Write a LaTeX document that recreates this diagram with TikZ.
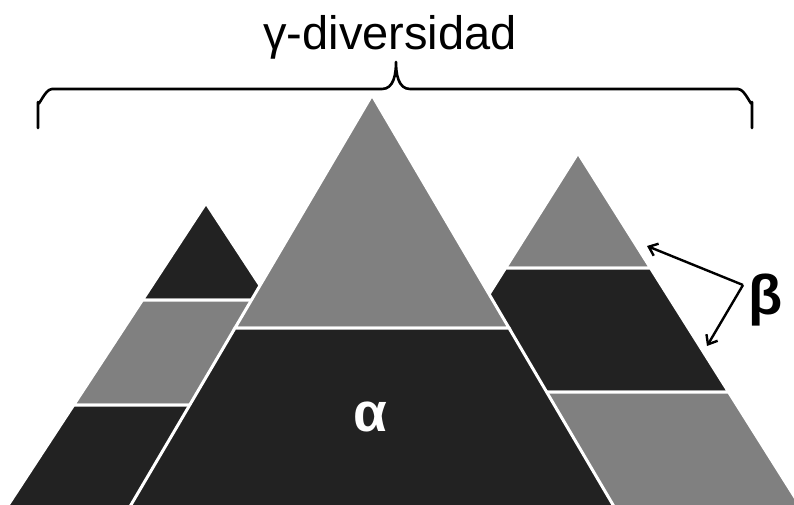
\documentclass[tikz,border=0pt]{standalone}
\usepackage{fontspec}
\setmainfont{Liberation Sans}
\usetikzlibrary{arrows.meta}
\definecolor{darkband}{HTML}{222222}
\definecolor{grayband}{HTML}{808080}
\newcommand\mband[6]{\filldraw[bandstyle,fill=#6] ({#1-#3*(#4-#2)},#4) -- ({#1+#3*(#4-#2)},#4) -- ({#1+#3*(#5-#2)},#5) -- ({#1-#3*(#5-#2)},#5) -- cycle;}
\tikzset{
  bandstyle/.style={draw=white,line width=3pt,line join=miter},
  bracestyle/.style={line width=2.6pt,black,line cap=round,line join=round},
  arrowstyle/.style={line width=2.4pt,black,-{Straight Barb[length=8pt,width=13pt,line width=2.4pt]}},
}
\begin{document}
\begin{tikzpicture}[x=1pt,y=-1pt]
\useasboundingbox (0,0) rectangle (794,505);
\fill[white] (0,0) rectangle (794,505);
\begin{scope}
\clip (0,0) rectangle (794,505);
% left mountain
\mband{206}{203}{0.655}{203}{300}{darkband}
\mband{206}{203}{0.655}{300}{405}{grayband}
\mband{206}{203}{0.655}{405}{530}{darkband}
% right mountain
\mband{578}{153}{0.63}{153}{268}{grayband}
\mband{578}{153}{0.63}{268}{392}{darkband}
\mband{578}{153}{0.63}{392}{530}{grayband}
% middle mountain
\mband{372}{95}{0.588}{95}{328}{grayband}
\mband{372}{95}{0.588}{328}{530}{darkband}
\end{scope}
% brace
\draw[bracestyle] (38,128) -- (38,102) to[out=-90,in=180] (52,89) -- (382,89) to[out=0,in=-90] (396,62)
  to[out=-90,in=180] (410,89) -- (738,89) to[out=0,in=-90] (752,102) -- (752,128);
\node[font=\fontsize{47}{50}\selectfont] (gamma) at (390,37) {γ-diversidad};
\node[font=\fontsize{55}{58}\selectfont\bfseries,text=white] (alpha) at (370,417) {α};
\node[font=\fontsize{56}{60}\selectfont\bfseries] (beta) at (766,300) {β};
\coordinate (bv) at (743,285);
\coordinate (t1) at (647,246);
\coordinate (t2) at (707,346);
\draw[arrowstyle] (bv) -- (t1);
\draw[arrowstyle] (bv) -- (t2);
\end{tikzpicture}
\end{document}
